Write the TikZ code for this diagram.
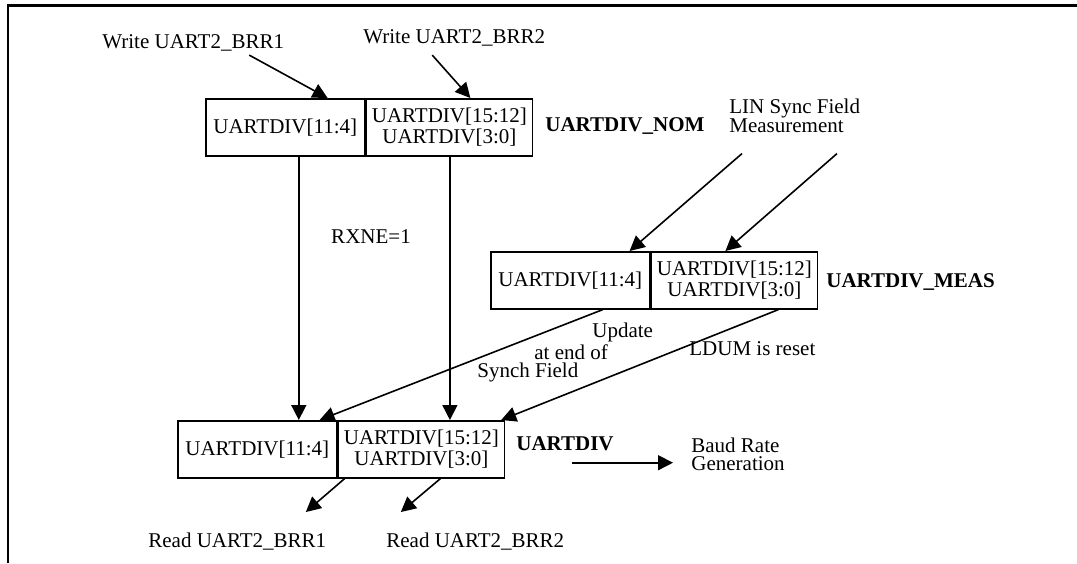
\documentclass[tikz,border=0pt]{standalone}
\usepackage{fontspec}
\setmainfont{Liberation Serif}
\usepackage{tikz}
\usetikzlibrary{positioning,arrows.meta}

\tikzset{
  txt/.style={inner sep=0pt,font=\fontsize{10.5}{10.5}\selectfont},
  regname/.style={inner sep=0pt,font=\fontsize{10.5}{10.5}\selectfont\bfseries},
  cell/.style={draw,line width=0.8pt,inner sep=0pt,minimum height=28.5pt,align=center,
    font=\fontsize{10.5}{10.5}\selectfont},
  locell/.style={cell,minimum width=79.5pt},
  hicell/.style={cell,minimum width=83pt},
  arr/.style={line width=0.8pt,-{Triangle[length=7.5pt,width=7.5pt]}}
}

\begin{document}
\begin{tikzpicture}[x=0.5pt,y=-0.5pt]
\useasboundingbox (0,0) rectangle (1077,563);
\draw[line width=1.25pt] (8,563) -- (8,5.5) -- (1077,5.5);

\node[locell,anchor=north west] (nomlo) at (205,98) {UARTDIV[11:4]};
\node[hicell,right=0pt of nomlo] (nomhi) {UARTDIV[15:12]\\UARTDIV[3:0]};
\node[regname,anchor=base west] (nomlbl) at (545,131) {UARTDIV\_NOM};

\node[locell,anchor=north west] (measlo) at (490,251) {UARTDIV[11:4]};
\node[hicell,right=0pt of measlo] (meashi) {UARTDIV[15:12]\\UARTDIV[3:0]};
\node[regname,anchor=base west] (measlbl) at (826,287) {UARTDIV\_MEAS};

\node[locell,anchor=north west] (botlo) at (177,420) {UARTDIV[11:4]};
\node[hicell,right=0pt of botlo] (bothi) {UARTDIV[15:12]\\UARTDIV[3:0]};
\node[regname,anchor=base west] (divlbl) at (516,450) {UARTDIV};

\node[txt,anchor=base west] (wr1) at (102,48) {Write UART2\_BRR1};
\node[txt,anchor=base west] (wr2) at (363,43) {Write UART2\_BRR2};
\node[txt] (rxne) at (371,237) {RXNE=1};
\node[txt,align=left,anchor=north west,font=\fontsize{10.5}{9.5}\selectfont] (lin) at (729,99)
  {LIN Sync Field\\Measurement};
\node[txt,align=left,anchor=north west,font=\fontsize{10.5}{9}\selectfont] (upd) at (477,323)
  {\hspace*{57.5pt}Update\\\hspace*{28.5pt}at end of\\Synch Field};
\node[txt,anchor=base west] (ldum) at (689,355) {LDUM is reset};
\node[txt,align=left,anchor=north west,font=\fontsize{10.5}{9}\selectfont] (baud) at (691,438)
  {Baud Rate\\Generation};
\node[txt,anchor=base west] (rd1) at (148,547) {Read UART2\_BRR1};
\node[txt,anchor=base west] (rd2) at (386,547) {Read UART2\_BRR2};

\draw[arr] ([xshift=28pt,yshift=-2pt]wr1.south) -- ([xshift=-19pt]nomlo.north east);
\draw[arr] ([xshift=-11pt,yshift=-4.5pt]wr2.south) -- ([xshift=10.5pt]nomhi.north);
\draw[arr] ([xshift=6.75pt]nomlo.south) -- ([xshift=6.75pt]nomlo.south |- botlo.north);
\draw[arr] ([xshift=0.25pt]nomhi.south) -- ([xshift=0.25pt]nomhi.south |- bothi.north);
\draw[arr] ([xshift=6.5pt,yshift=-10pt]lin.south west) -- ([xshift=-10.5pt]measlo.north east);
\draw[arr] ([xshift=54pt,yshift=-10pt]lin.south west) -- ([xshift=-4.5pt]meashi.north);
\draw[arr] ([xshift=16.25pt]measlo.south) -- ([xshift=-9pt]botlo.north east);
\draw[arr] ([xshift=22pt]meashi.south) -- ([xshift=-2pt]bothi.north east);
\draw[arr,shorten >=12.5pt] ([xshift=3.5pt,yshift=-6pt]divlbl.south)
  -- ([xshift=3.5pt,yshift=-6pt]divlbl.south -| baud.west);
\draw[arr] ([xshift=3.5pt]bothi.south west) -- ([xshift=34.25pt,yshift=10pt]rd1.north);
\draw[arr] ([xshift=9.5pt]bothi.south) -- ([xshift=-37.25pt,yshift=10pt]rd2.north);
\end{tikzpicture}
\end{document}
